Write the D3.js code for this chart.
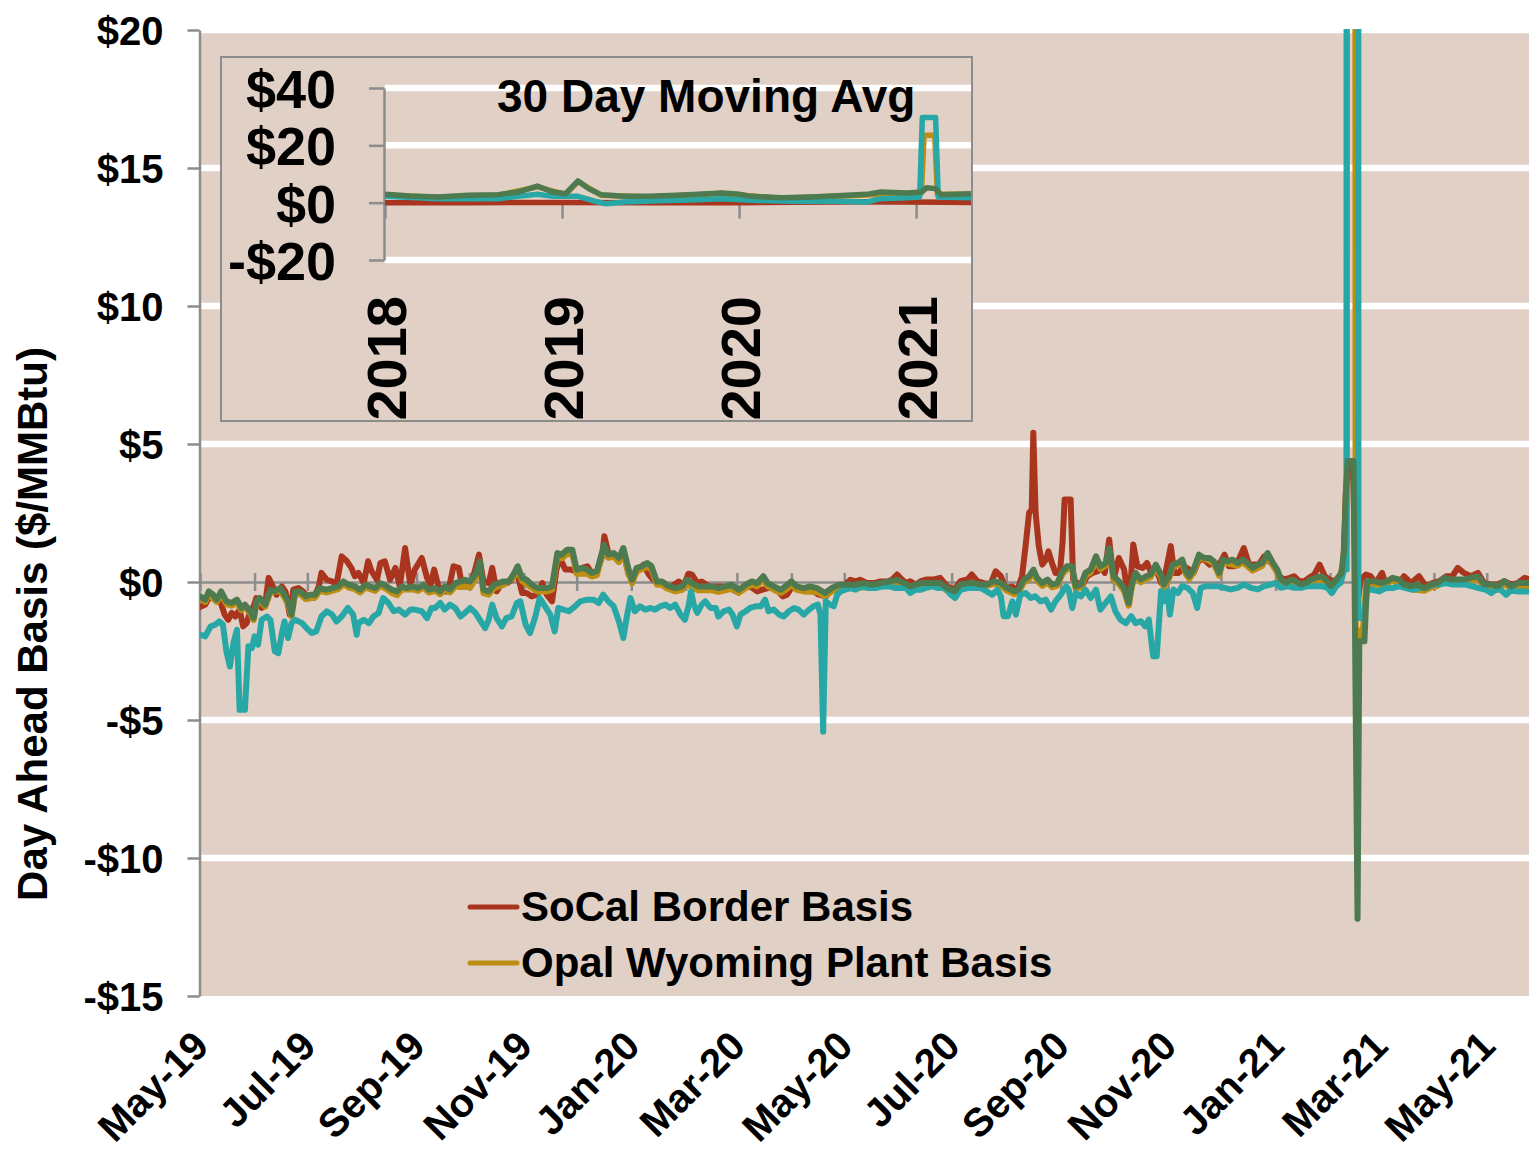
<!doctype html>
<html>
<head>
<meta charset="utf-8">
<title>Day Ahead Basis</title>
<style type="text/css">
body { margin: 0; background: #fff; }
svg { display: block; font-family: "Liberation Sans", Arial, sans-serif; font-weight: bold; }
</style>
<script src="https://cdnjs.cloudflare.com/ajax/libs/d3/7.8.5/d3.min.js"></script>
</head>
<body>
<script type="text/javascript">
// ---- data: [days after 1 May 2019, $/MMBtu] ----
var socalBorder = [[0,-0.91],[3,-0.82],[5.5,-0.52],[8.5,-0.64],[11.5,-0.7],[14,-1.18],[16,-1.37],[18,-1.12],[20,-1.25],[22.5,-1.0],[24.5,-1.61],[26.5,-1.49],[28.5,-1.06],[30.5,-0.88],[32,-0.58],[35,-0.94],[37,-0.82],[39,0.15],[41,-0.1],[43.5,-0.46],[46.5,-0.16],[48.5,-0.34],[51,-1.18],[53,-0.28],[56,-0.22],[58.5,-0.34],[61.5,-0.58],[64.5,-0.58],[67.5,-0.16],[69,0.33],[72,0.08],[75,0.02],[77.5,-0.1],[80.5,0.93],[83.5,0.75],[86,0.51],[88,0.21],[90,0.33],[93,-0.04],[95.5,0.75],[97.5,0.39],[100.5,0.08],[102.5,0.69],[105,0.75],[108,0.08],[111,0.51],[113.5,-0.16],[116.5,1.23],[119.5,-0.1],[122,0.45],[126,0.87],[129,0.15],
  [131,-0.1],[133,0.45],[135.5,-0.16],[138.5,-0.34],[141,-0.34],[144,0.57],[147,0.51],[149,-0.16],[151.5,-0.16],[154.5,0.02],[158.5,0.99],[161,0.02],[164,-0.04],[166,0.51],[168.5,-0.34],[171.5,-0.04],[174.5,-0.04],[177,0.08],[180,0.39],[183,-0.4],[185.5,-0.4],[188.5,-0.52],[191.5,-0.46],[194.5,-0.04],[197,-0.46],[200,-0.7],[202.5,0.45],[204.5,0.87],[207.5,0.45],[210.5,0.45],[214,0.39],[217,0.51],[220,0.57],[222.5,0.33],[225.5,0.39],[228.5,0.93],[229.7,1.66],[232,1.05],[235,0.99],[238,0.75],[240.5,1.11],[243.5,0.27],[246.5,0.21],[249,0.45],[252,0.63],[255,0.27],[257.5,0.08],[260.5,-0.04],[263.5,-0.04],[266,-0.16],
  [268,-0.16],[272,0.02],[275,-0.1],[277.5,0.3],[279.5,0.27],[282.5,-0.04],[285,0.02],[289,-0.16],[293,-0.16],[296.5,-0.16],[300.5,-0.22],[305,-0.34],[309,-0.22],[312.5,-0.16],[316.5,-0.34],[319.5,-0.28],[322.5,-0.22],[327,-0.22],[331,-0.52],[333.5,-0.46],[336.5,-0.16],[340,-0.22],[344,-0.22],[347.5,-0.28],[351.5,-0.46],[355.5,-0.52],[359,-0.28],[363,-0.16],[366.5,-0.1],[369.5,0.08],[372.5,0.02],[375,0.08],[379,-0.04],[383,-0.04],[386.5,0.02],[390.5,0.02],[393,0.08],[396,0.27],[399,0.08],
  [401,-0.04],[403.5,0.03],[406.5,-0.09],[409.5,0.03],[413,0.09],[417,0.09],[420.5,0.15],[424.5,-0.16],[428.5,-0.28],[432,0.03],[436,0.09],[438.5,0.27],[441.5,0.03],[445.5,-0.04],[449,-0.09],[452,0.39],[455,0.21],[457.5,-0.22],[461.5,-0.16],[464,-0.34],[467,0.21],[469,1.3],[471,2.51],[472.5,2.63],[473.4,5.41],[474.7,2.51],[476.5,1.3],[478.5,0.63],[480.5,0.81],[482,1.11],[484,0.69],[486,0.33],[488.5,0.33],[490,1.42],[491.2,2.99],[494.6,2.99],[496,0.09],[498.5,-0.04],[501.5,-0.09],[504,0.21],[507,0.33],[510,0.39],[511.5,0.57],[514,0.33],[516.5,1.54],[519,0.09],[522,0.87],[525,0.45],[527.8,-0.82],[530.2,1.36],[532.5,0.57],[535.5,0.51],
  [538,0.69],[540,0.39],[543,0.51],[546,-0.03],[548.5,0.33],[551.5,1.3],[553.5,0.33],[556,0.33],[559,0.57],[562,0.45],[564.5,0.33],[567.5,0.81],[570.5,0.81],[573.5,0.63],[576,0.69],[579,0.63],[582,0.99],[584.5,0.57],[587.5,0.57],[590.5,0.87],[593,1.23],[596,0.63],[599,0.63],[601.5,0.63],[604.5,0.93],[607.5,0.75],[610.5,0.57],[613,0.21],[616,0.09],[619,0.15],[621.5,0.21],[624.5,0.03],[627.5,0.03],[630,0.15],[633,0.27],[636,0.63],[639,0.21],[641.5,0.09],[644.5,0.03],[647.5,0.21],[649.5,0.57],[651,3.35],[652.5,4.2],[655,4.2],[657,-1.0],[659.5,0.1],[662.3,0.27],
  [665,0.21],[668,-0.04],[671.5,0.33],[673.5,-0.04],[677.5,0.09],[681.5,-0.04],[684,0.21],[688,-0.04],[692.5,0.21],[696.5,-0.16],[700,-0.04],[704,0.03],[708,0.21],[711.5,0.21],[714.5,0.51],[718,0.33],[722,0.21],[726,0.33],[729.5,-0.04],[733.5,-0.09],[737,-0.09],[741,0.03],[745,-0.09],[748.5,-0.04],[752.5,0.15],[756,0.09]];

var opalPlant = [[0,-0.6],[3,-0.72],[5,-0.45],[9.5,-0.72],[12,-0.45],[15,-0.8],[18,-0.86],[21,-0.74],[23.5,-1.02],[25.5,-0.9],[28.5,-1.14],[30.5,-1.38],[32,-0.8],[34,-0.68],[37,-0.9],[40,-0.38],[45.5,-0.32],[48,-0.56],[50,-0.8],[52,-1.26],[54,-0.44],[57,-0.44],[60,-0.62],[65.5,-0.56],[68,-0.32],[72,-0.38],[78.5,-0.26],[81.5,-0.08],[84.5,-0.2],[88,-0.26],[91,-0.38],[94,-0.2],[99.5,-0.32],[102.5,-0.14],[106,-0.26],[109,-0.4],[112,-0.48],[114.5,-0.28],[120.5,-0.26],[124,-0.32],[127,-0.2],[130,-0.38],
  [133.5,-0.32],[136.5,-0.44],[139,-0.26],[142,-0.38],[145,-0.16],[148,-0.18],[150.5,-0.16],[153.5,-0.2],[156.5,0.1],[159,0.62],[161,-0.4],[164,-0.46],[167,-0.22],[172.5,-0.1],[178,0.15],[180.5,0.45],[183,0.03],[188.5,-0.22],[191.5,-0.34],[197,-0.34],[200,-0.28],[203,0.9],[205.5,0.85],[208.5,1.02],[211.5,1.0],[214,0.3],[220,0.3],[222.5,0.2],[225.5,0.25],[229.5,1.25],[232,0.88],[235,0.92],[238,0.72],[240.5,1.08],[243.5,0.3],[245.5,-0.05],[248,0.38],[254,0.55],[256.5,0.45],[259.5,-0.1],[262.5,-0.1],[265,-0.22],
  [270,-0.34],[274,-0.28],[276.5,-0.05],[279.5,-0.2],[283,-0.3],[291,-0.3],[294.5,-0.36],[298.5,-0.3],[302,-0.24],[306,-0.4],[310,-0.22],[313.5,-0.1],[316.5,-0.16],[320,0.1],[322.5,-0.16],[326,-0.28],[330,-0.4],[332.5,-0.3],[336,-0.1],[339,-0.28],[343,-0.34],[350.5,-0.36],[355,-0.52],[359,-0.34],[363,-0.2],[372.5,-0.2],[382,-0.2],[391.5,-0.08],[396,-0.02],[400,-0.14],
  [403.5,-0.26],[409.5,-0.14],[420.5,-0.14],[424.5,-0.32],[428.5,-0.44],[432,-0.19],[443.5,-0.19],[451,-0.07],[455,-0.14],[458.5,-0.32],[462.5,-0.44],[465,-0.38],[468,-0.02],[471,0.1],[473.5,0.35],[475.5,0.05],[478.5,-0.14],[481.5,-0.02],[484,-0.19],[487,-0.14],[490,0.29],[492.5,0.47],[495.5,0.47],[497.5,-0.26],[500.5,-0.19],[503,0.23],[506,0.35],[509,0.83],[511.5,0.47],[514.5,0.59],[516.5,1.13],[519,0.11],[522,-0.07],[525,-0.32],[527.5,-0.86],[529.5,-0.14],[531.5,0.23],[534.5,-0.01],
  [537.5,0.11],[540,0.17],[543,0.53],[546,0.17],[547.5,-0.19],[550.5,0.11],[552.5,0.53],[558,0.7],[560,0.29],[562,0.11],[564.5,0.35],[567.5,0.89],[573.5,0.77],[576,0.65],[579,0.23],[581,0.71],[589.5,0.59],[592.5,0.71],[598,0.41],[603.5,0.59],[606.5,0.95],[609.5,0.59],[612,0.35],[614,-0.01],[617,-0.13],[622.5,-0.07],[625.5,-0.19],[631,-0.01],[637,0.11],[639.5,-0.01],[642.5,-0.25],[645.5,-0.01],[648,0.23],[650,1.0],[651.4,1.4],[651.6,60],[656.1,60],[656.5,-1.6],[657.5,-2.0],[658.5,-2.0],[660.8,-1.6],[662.5,-0.07],
  [667,-0.07],[671,-0.14],[677.5,0.05],[684,-0.19],[688,-0.26],[695.5,-0.32],[699.5,-0.19],[703,-0.14],[707,0.05],[718,-0.01],[722,0.05],[726,0.11],[729.5,-0.19],[737,-0.26],[741,-0.07],[745,-0.26],[756,-0.14]];

var tealSeries = [[0,-1.91],[3,-1.97],[6,-1.61],[8.5,-1.55],[11,-1.43],[13,-1.55],[15,-2.51],[17,-3.06],[19,-2.21],[21,-1.73],[22.5,-4.63],[25.5,-4.63],[27.5,-2.33],[29.5,-2.39],[31,-1.97],[33,-2.27],[35,-1.37],[38,-1.25],[40,-1.37],[42.5,-2.51],[44.5,-2.58],[46.5,-1.85],[48,-1.43],[50,-2.03],[52,-1.49],[54,-1.37],[58,-1.49],[60.5,-1.67],[63.5,-1.85],[66,-1.79],[69,-1.25],[72,-1.06],[75,-1.18],[77.5,-1.43],[80.5,-1.25],[84,-0.94],[87,-1.18],[89,-1.91],[90,-1.49],[93,-1.37],[96,-1.49],[98.5,-1.25],[101.5,-1.12],[104,-0.58],[107,-0.76],[110,-1.06],[113,-1.0],[116.5,-1.18],[119.5,-1.0],[122,-1.0],[126,-1.06],[129,-1.31],[131.5,-0.94],
  [133.5,-0.94],[136.5,-0.76],[139,-1.0],[142,-0.82],[145,-0.94],[148,-1.25],[150.5,-1.12],[153.5,-0.94],[156.5,-1.12],[159,-1.37],[162,-1.67],[164,-1.37],[166,-0.82],[168.5,-1.31],[171.5,-1.61],[174,-1.31],[177,-1.25],[180,-0.76],[182,-0.7],[185,-1.55],[187.5,-1.85],[190.5,-1.25],[193,-0.58],[196,-0.88],[199,-1.18],[201.5,-1.79],[203.5,-0.94],[206.5,-1.0],[209.5,-1.06],[212,-0.94],[216,-0.7],[220,-0.64],[223.5,-0.64],[226.5,-0.76],[229,-0.46],[232,-0.7],[235,-0.88],[238,-1.43],[240.5,-2.03],[242.5,-1.25],[244.5,-0.58],[247,-1.06],[250,-0.88],[253,-1.0],[256,-0.94],[258.5,-1.0],[261.5,-0.88],[264.5,-0.82],
  [267,-0.94],[270,-0.82],[273,-1.18],[275.5,-1.37],[277.5,-0.88],[279,-0.34],[280.5,-0.82],[282.5,-1.12],[285,-0.82],[287,-0.7],[290,-0.94],[293,-0.94],[294.5,-1.25],[297.5,-1.06],[300.5,-1.0],[302.5,-1.18],[305,-1.61],[307,-1.18],[310,-1.06],[312.5,-0.94],[315.5,-0.88],[318.5,-0.88],[321,-0.64],[323,-1.06],[326,-1.0],[329,-1.18],[331.5,-1.25],[334.5,-1.06],[337.5,-0.94],[340,-1.0],[343,-1.18],[346,-1.0],[348.5,-0.88],[351,-0.82],[352.5,-1.18],[354,-5.42],[355.5,-0.7],[358,-0.82],[360,-0.88],[362,-0.46],[364,-0.34],[366.5,-0.28],[369.5,-0.22],[372.5,-0.28],[376,-0.16],[380,-0.22],[384,-0.22],[387.5,-0.16],[391.5,-0.16],[395,-0.22],[398,-0.22],
  [401,-0.22],[403.5,-0.4],[406.5,-0.28],[409.5,-0.28],[412,-0.22],[416,-0.16],[419.5,-0.22],[423.5,-0.22],[426.5,-0.46],[429,-0.58],[432,-0.28],[436,-0.22],[439.5,-0.22],[443.5,-0.22],[447,-0.34],[450,-0.46],[453,-0.28],[455,-0.52],[456.5,-1.24],[459,-1.24],[461.5,-0.7],[463.5,-1.18],[466,-0.46],[469,-0.4],[472,-0.58],[474.5,-0.52],[477.5,-0.7],[480.5,-0.64],[483.5,-1.0],[486,-0.7],[489,-0.46],[492,-0.16],[493.5,-0.28],[495.5,-0.94],[497.5,-0.4],[500.5,-0.52],[503,-0.28],[506,-0.58],[509,-0.28],[511.5,-1.0],[514.5,-0.76],[517.5,-0.52],[520,-1.06],[523,-1.37],[526,-1.49],[529,-1.24],[531.5,-1.49],[534.5,-1.42],
  [537,-1.61],[539,-1.36],[541.5,-2.69],[543.5,-2.69],[546,-0.33],[547.5,-0.7],[549.5,-0.33],[551,-1.18],[553,-0.27],[555.5,-0.4],[558,-0.15],[561,-0.21],[564,-0.4],[566.5,-0.94],[568.5,-0.21],[571.5,-0.15],[574,-0.15],[578,-0.15],[582,-0.21],[585.5,-0.27],[589.5,-0.21],[593,-0.09],[597,-0.21],[601,-0.27],[604.5,-0.15],[608.5,-0.09],[611,-0.03],[614,-0.21],[618,-0.15],[621.5,-0.21],[625.5,-0.21],[629,-0.15],[633,-0.15],[637,-0.15],[640.5,-0.21],[643,-0.4],[645.5,-0.15],[648,-0.03],[650,0.45],[651.4,0.45],[651.6,150],[657.8,150],[658.1,-1.3],[661.2,-1.3],[663,-0.28],
  [666,-0.28],[670,-0.34],[673.5,-0.22],[677.5,-0.22],[681,-0.16],[685,-0.22],[689,-0.28],[692.5,-0.22],[696.5,-0.22],[700,-0.09],[704,-0.09],[708,-0.04],[711.5,-0.09],[715.5,-0.09],[719,-0.09],[723,-0.16],[726.5,-0.22],[730.5,-0.28],[733.5,-0.4],[736,-0.28],[739,-0.28],[742,-0.46],[745,-0.28],[748.5,-0.34],[752.5,-0.34],[756,-0.34]];

var greenSeries = [[0,-0.52],[3,-0.64],[5,-0.34],[7.5,-0.46],[9.5,-0.64],[12,-0.34],[15,-0.7],[18,-0.76],[21,-0.64],[23.5,-0.94],[25.5,-0.82],[28.5,-1.06],[30.5,-1.31],[32,-0.7],[34,-0.58],[37,-0.82],[40,-0.28],[42.5,-0.34],[45.5,-0.22],[48,-0.46],[50,-0.7],[52,-1.18],[54,-0.34],[57,-0.34],[60,-0.52],[62.5,-0.46],[65.5,-0.46],[68,-0.22],[72,-0.28],[75,-0.22],[78.5,-0.16],[81.5,0.02],[84.5,-0.1],[88,-0.16],[91,-0.28],[94,-0.1],[96.5,-0.16],[99.5,-0.22],[102.5,-0.04],[106,-0.16],[109,-0.28],[112,-0.34],[114.5,-0.16],[117.5,-0.22],[120.5,-0.16],[124,-0.22],[127,-0.1],[130,-0.28],
  [133.5,-0.22],[136.5,-0.34],[139,-0.16],[142,-0.28],[145,-0.04],[148,0.02],[150.5,0.08],[153.5,0.02],[156.5,0.27],[159,0.75],[161,-0.28],[164,-0.34],[167,-0.1],[169.5,-0.04],[172.5,0.02],[175.5,0.02],[178,0.27],[180.5,0.57],[183,0.15],[185.5,0.08],[188.5,-0.1],[191.5,-0.22],[194.5,-0.22],[197,-0.22],[200,-0.16],[203,1.05],[205.5,0.99],[208.5,1.17],[211.5,1.17],[214,0.45],[217,0.51],[220,0.45],[222.5,0.33],[225.5,0.39],[229.5,1.35],[232,0.99],[235,1.05],[238,0.87],[240.5,1.23],[243.5,0.45],[245.5,0.08],[248,0.51],[251,0.57],[254,0.69],[256.5,0.57],[259.5,0.02],[262.5,0.02],[265,-0.1],
  [267,-0.16],[270,-0.22],[274,-0.16],[276.5,0.08],[279.5,-0.04],[283,-0.16],[287,-0.16],[291,-0.16],[294.5,-0.22],[298.5,-0.16],[302,-0.1],[306,-0.28],[310,-0.1],[313.5,0.02],[316.5,-0.04],[320,0.21],[322.5,-0.04],[326,-0.16],[330,-0.28],[332.5,-0.16],[336,0.02],[339,-0.16],[343,-0.22],[346.5,-0.16],[350.5,-0.22],[355,-0.4],[359,-0.22],[363,-0.1],[367.5,-0.1],[372.5,-0.1],[377,-0.04],[382,-0.1],[386.5,-0.04],[391.5,0.02],[396,0.08],[400,-0.04],
  [403.5,-0.16],[406.5,-0.09],[409.5,-0.04],[413,-0.04],[417,-0.04],[420.5,-0.04],[424.5,-0.22],[428.5,-0.34],[432,-0.09],[436,-0.04],[439.5,-0.04],[443.5,-0.09],[447,-0.09],[451,0.03],[455,-0.04],[458.5,-0.22],[462.5,-0.34],[465,-0.28],[468,0.09],[471,0.21],[473.5,0.45],[475.5,0.15],[478.5,-0.04],[481.5,0.09],[484,-0.09],[487,-0.04],[490,0.39],[492.5,0.57],[495.5,0.57],[497.5,-0.16],[500.5,-0.09],[503,0.33],[506,0.45],[509,0.93],[511.5,0.57],[514.5,0.69],[516.5,1.23],[519,0.21],[522,0.03],[525,-0.22],[527.5,-0.76],[529.5,-0.04],[531.5,0.33],[534.5,0.09],
  [537.5,0.21],[540,0.27],[543,0.63],[546,0.27],[547.5,-0.09],[550.5,0.21],[552.5,0.63],[555.5,0.69],[558,0.81],[560,0.39],[562,0.21],[564.5,0.45],[567.5,0.99],[570.5,0.87],[573.5,0.87],[576,0.75],[579,0.33],[581,0.81],[583.5,0.75],[586.5,0.81],[589.5,0.69],[592.5,0.81],[595,0.69],[598,0.51],[601,0.63],[603.5,0.69],[606.5,1.05],[609.5,0.69],[612,0.45],[614,0.09],[617,-0.03],[620,0.09],[622.5,0.03],[625.5,-0.09],[628.5,-0.03],[631,0.09],[634,0.15],[637,0.21],[639.5,0.09],[642.5,-0.15],[645.5,0.09],[648.5,0.33],[650,1.2],[651,3.3],[652,4.38],[655.3,4.38],[657.6,-12.2],[658.6,-2.15],[661.5,-2.15],[663,0.03],
  [667,0.03],[671,-0.04],[674.5,0.03],[677.5,0.15],[681,0.09],[684,-0.09],[688,-0.16],[691.5,-0.09],[695.5,-0.22],[699.5,-0.09],[703,-0.04],[707,0.15],[710.5,0.09],[714.5,0.09],[718,0.09],[722,0.15],[726,0.21],[729.5,-0.09],[733.5,-0.09],[737,-0.16],[741,0.03],[745,-0.16],[748.5,-0.04],[752.5,-0.04],[756,-0.04]];

// 30 day moving average inset: [decimal year, $/MMBtu]
var avgSocal = [[2018.0,0.0],[2018.5,0.0],[2019.0,0.1],[2019.5,0.0],[2020.0,0.0],[2020.65,0.3],[2021.0,0.2],[2021.31,0.1]];
var avgOpal = [[2018.0,2.7],[2018.3,1.8],[2018.64,2.6],[2018.86,5.5],[2019.02,2.9],[2019.09,7.3],[2019.22,2.6],[2019.5,2.0],[2019.9,3.2],[2020.24,1.5],[2020.72,2.7],[2020.95,3.2],[2021.03,3.5],[2021.045,23.5],[2021.105,23.5],[2021.12,3.0],[2021.31,2.9]];
var avgTeal = [[2018.0,2.2],[2018.3,1.4],[2018.64,1.4],[2018.75,2.2],[2018.86,2.9],[2018.95,2.2],[2019.09,2.2],[2019.18,0.6],[2019.25,-0.4],[2019.35,0.2],[2019.5,0.6],[2019.77,1.0],[2019.9,1.4],[2020.07,0.8],[2020.3,0.5],[2020.5,0.6],[2020.72,0.2],[2020.8,1.4],[2020.95,1.7],[2021.02,2.0],[2021.035,29.7],[2021.11,29.7],[2021.125,2.0],[2021.31,1.7]];
var avgGreen = [[2018.0,2.9],[2018.14,2.3],[2018.3,2.0],[2018.47,2.55],[2018.64,2.8],[2018.75,3.7],[2018.86,5.8],[2018.95,3.7],[2019.02,3.1],[2019.09,7.6],[2019.15,4.9],[2019.22,2.8],[2019.35,2.2],[2019.49,2.2],[2019.65,2.55],[2019.77,2.9],[2019.9,3.4],[2019.99,3.0],[2020.07,2.2],[2020.24,1.7],[2020.41,2.0],[2020.61,2.55],[2020.72,2.9],[2020.8,3.7],[2020.95,3.4],[2021.03,3.7],[2021.06,5.2],[2021.11,4.9],[2021.14,2.8],[2021.31,3.1]];

var xTickLabels = ["May-19","Jul-19","Sep-19","Nov-19","Jan-20","Mar-20","May-20","Jul-20","Sep-20","Nov-20","Jan-21","Mar-21","May-21"];
var yTicks = [-15,-10,-5,0,5,10,15,20];
var insetYTicks = [-20,0,20,40];
var insetYears = [2018,2019,2020,2021];
var legendNames = ["SoCal Border Basis","Opal Wyoming Plant Basis"];

var colors = {red:"#a9351f", gold:"#bd8e12", teal:"#27a7a5", green:"#4e7a4f"};
var bg = "#e0d0c6", grey = "#8c8c8c";

var width = 1529, height = 1149;
var svg = d3.select("body").append("svg")
	.attr("width", width)
	.attr("height", height);

var start = Date.UTC(2019, 4, 1);
function toDate(d) { return new Date(start + d * 864e5); }
function money(v) { return v < 0 ? "-$" + (-v) : "$" + v; }

var x = d3.scaleUtc().domain([toDate(0), toDate(755)]).range([200, 1529]);
var y = d3.scaleLinear().domain([-15, 20]).range([996, 30]);

// plot background + white gridlines
svg.append("rect").attr("x", 200).attr("y", 30).attr("width", 1329).attr("height", 966).attr("fill", bg);
svg.append("g").selectAll("line").data(yTicks.filter(function(v) { return v !== 0 && v !== -15; }))
	.enter().append("line")
	.attr("x1", 200).attr("x2", 1529)
	.attr("y1", function(d) { return y(d); }).attr("y2", function(d) { return y(d); })
	.attr("stroke", "#fff").attr("stroke-width", 6.5);

// zero line with monthly ticks
var zeroAxis = svg.append("g").attr("transform", "translate(0," + y(0) + ")")
	.call(d3.axisBottom(x).ticks(d3.utcMonth.every(1)).tickSize(9).tickSizeOuter(0).tickFormat(""));
zeroAxis.select(".domain").attr("stroke", grey).attr("stroke-width", 2.5);
zeroAxis.selectAll(".tick line").attr("y1", -9).attr("stroke", grey).attr("stroke-width", 2.5);

// left axis
var yAxis = svg.append("g").attr("transform", "translate(199.5,0)")
	.call(d3.axisLeft(y).tickValues(yTicks).tickSize(12).tickSizeOuter(0).tickPadding(24).tickFormat(money));
yAxis.attr("font-family", null).attr("font-size", null);
yAxis.select(".domain").attr("stroke", grey).attr("stroke-width", 2.5);
yAxis.selectAll(".tick line").attr("stroke", grey).attr("stroke-width", 2.5);
yAxis.selectAll("text").attr("font-size", 40).attr("fill", "#000").attr("dy", "0.36em");

// x labels
var parseLabel = d3.utcParse("%b-%y");
var xLab = svg.append("g").attr("transform", "translate(0,1038)")
	.call(d3.axisBottom(x).tickValues(xTickLabels.map(parseLabel)).tickSize(0)
		.tickFormat(function(d, i) { return xTickLabels[i]; }));
xLab.attr("font-family", null).attr("font-size", null);
xLab.select(".domain").remove();
xLab.selectAll("text")
	.attr("y", 0).attr("dy", "0.36em")
	.attr("transform", "rotate(-45)")
	.attr("text-anchor", "end")
	.attr("font-size", 40).attr("fill", "#000");

// axis title
svg.append("text")
	.attr("transform", "translate(47,624) rotate(-90)")
	.attr("text-anchor", "middle")
	.attr("font-size", 42)
	.text("Day Ahead Basis ($/MMBtu)");

// series
svg.append("clipPath").attr("id", "plotClip")
	.append("rect").attr("x", 200).attr("y", 29).attr("width", 1329).attr("height", 971);

var line = d3.line()
	.x(function(d) { return x(toDate(d[0])); })
	.y(function(d) { return y(d[1]); });

var mainSeries = [
	{data: socalBorder, color: colors.red},
	{data: opalPlant, color: colors.gold},
	{data: tealSeries, color: colors.teal},
	{data: greenSeries, color: colors.green}
];

svg.append("g").attr("clip-path", "url(#plotClip)")
	.selectAll("path").data(mainSeries).enter().append("path")
	.attr("d", function(s) { return line(s.data); })
	.attr("fill", "none")
	.attr("stroke", function(s) { return s.color; })
	.attr("stroke-width", 6)
	.attr("stroke-linejoin", "round")
	.attr("stroke-linecap", "round");

// ---- inset ----
var inset = svg.append("g");
inset.append("rect").attr("x", 221).attr("y", 57).attr("width", 751).attr("height", 364)
	.attr("fill", bg).attr("stroke", grey).attr("stroke-width", 2);

var xi = d3.scaleLinear().domain([2018, 2021.31]).range([385, 971]);
var yi = d3.scaleLinear().domain([-20, 40]).range([260, 88]);

inset.append("g").selectAll("line").data(insetYTicks.filter(function(v) { return v !== 0; }))
	.enter().append("line")
	.attr("x1", 385).attr("x2", 971)
	.attr("y1", function(d) { return yi(d); }).attr("y2", function(d) { return yi(d); })
	.attr("stroke", "#fff").attr("stroke-width", 6.5);

var xiAxis = inset.append("g").attr("transform", "translate(0," + yi(0) + ")")
	.call(d3.axisBottom(xi).tickValues(insetYears).tickSize(16).tickSizeOuter(0).tickFormat(""));
xiAxis.select(".domain").attr("stroke", grey).attr("stroke-width", 2.5);
xiAxis.selectAll(".tick line").attr("stroke", grey).attr("stroke-width", 2.5);

var yiAxis = inset.append("g").attr("transform", "translate(384,0)")
	.call(d3.axisLeft(yi).tickValues(insetYTicks).tickSize(15).tickSizeOuter(0).tickPadding(33).tickFormat(money));
yiAxis.attr("font-family", null).attr("font-size", null);
yiAxis.select(".domain").attr("stroke", grey).attr("stroke-width", 2.5);
yiAxis.selectAll(".tick line").attr("stroke", grey).attr("stroke-width", 2.5);
yiAxis.selectAll("text").attr("font-size", 54).attr("fill", "#000").attr("dy", "0.36em");

inset.append("g").selectAll("text").data(insetYears).enter().append("text")
	.attr("transform", function(d) { return "translate(" + (xi(d) + 21) + ",296) rotate(-90)"; })
	.attr("text-anchor", "end")
	.attr("font-size", 56)
	.text(function(d) { return d; });

inset.append("text").attr("x", 497).attr("y", 112).attr("font-size", 46).text("30 Day Moving Avg");

inset.append("clipPath").attr("id", "insetClip")
	.append("rect").attr("x", 385).attr("y", 58).attr("width", 586).attr("height", 362);

var insetLine = d3.line()
	.x(function(d) { return xi(d[0]); })
	.y(function(d) { return yi(d[1]); });

var insetSeries = [
	{data: avgSocal, color: colors.red},
	{data: avgOpal, color: colors.gold},
	{data: avgTeal, color: colors.teal},
	{data: avgGreen, color: colors.green}
];

inset.append("g").attr("clip-path", "url(#insetClip)")
	.selectAll("path").data(insetSeries).enter().append("path")
	.attr("d", function(s) { return insetLine(s.data); })
	.attr("fill", "none")
	.attr("stroke", function(s) { return s.color; })
	.attr("stroke-width", 5.5)
	.attr("stroke-linejoin", "round");

// ---- legend ----
var legend = svg.append("g").selectAll("g").data(legendNames).enter().append("g")
	.attr("transform", function(d, i) { return "translate(470," + (907 + i * 56) + ")"; });
legend.append("line").attr("x1", 0).attr("x2", 47)
	.attr("stroke", function(d, i) { return i === 0 ? colors.red : colors.gold; })
	.attr("stroke-width", 5).attr("stroke-linecap", "round");
legend.append("text").attr("x", 51).attr("y", 14).attr("font-size", 42)
	.text(function(d) { return d; });
</script>
</body>
</html>
